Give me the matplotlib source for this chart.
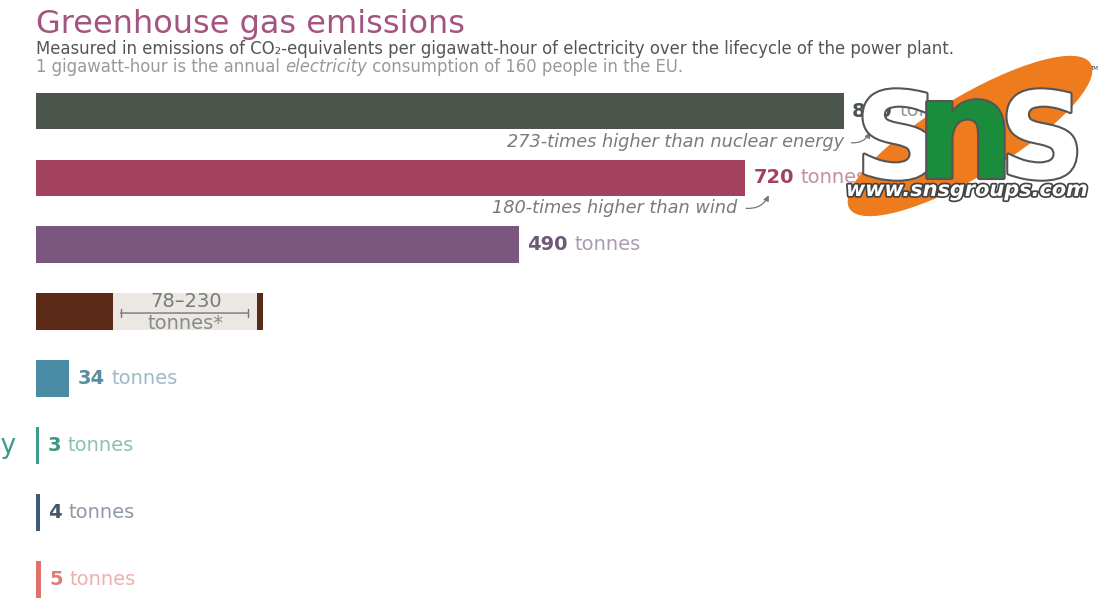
import matplotlib
matplotlib.use("Agg")
import matplotlib.pyplot as plt
import matplotlib.patheffects as pe
from matplotlib.patches import Ellipse, FancyArrowPatch

plt.rcParams["font.family"] = ["DejaVu Sans"]

# data
sources = ["Coal", "Oil", "Natural gas", "Biomass", "Hydropower",
           "Nuclear energy", "Wind", "Solar"]
emissions = [820, 720, 490, 78, 34, 3, 4, 5]
biomass_high = 230
colors = ["#4b554b", "#a3425f", "#7b5780", "#5b2a18", "#4a8ba6",
          "#3a9c8a", "#3e5a7a", "#e0716c"]
label_colors = ["#4b554b", "#a3425f", "#6e5a78", "#5b2a18", "#5a8ca2",
                "#3f9585", "#44566c", "#df7c78"]
value_labels = ["820", "720", "490", None, "34", "3", "4", "5"]

W, H = 1108, 615
fig = plt.figure(figsize=(W / 100, H / 100), dpi=100)

# bar axes: left edge at x=36px, 0.985 px per tonne, rows 66.9 px apart
x0 = 36
ppt = 0.985
row = 66.9
y_first = 111
ax = fig.add_axes([x0 / W, 0, 1 - x0 / W, 1])
ax.set_xlim(0, (W - x0) / ppt)
ax.set_ylim((H - y_first) / row, -y_first / row)
ax.axis("off")

ypos = list(range(len(sources)))
ax.barh(ypos, emissions, height=0.55, color=colors, zorder=3)

# biomass range box
ax.barh(3, biomass_high - emissions[3], left=emissions[3], height=0.55,
        color="#ebe7e3", zorder=2)
ax.barh(3, 6, left=biomass_high - 6, height=0.55, color=colors[3], zorder=3)
ax.annotate("", xy=(83, 3.02), xytext=(218, 3.02),
            arrowprops=dict(arrowstyle="|-|", color="#777", lw=1,
                            mutation_scale=3), zorder=4)
ax.text(152, 2.99, "78–230", ha="center", va="bottom", fontsize=14,
        color="#7a7a7a", zorder=5)
ax.text(152, 3.03, "tonnes*", ha="center", va="top", fontsize=14,
        color="#8a8a8a", zorder=5)

# value labels
for i, (v, lab) in enumerate(zip(emissions, value_labels)):
    if lab is None:
        continue
    t = ax.annotate(lab, xy=(v, i), xytext=(6, 0), textcoords="offset points",
                    ha="left", va="center", fontsize=14, fontweight="bold",
                    color=label_colors[i], zorder=5)
    ax.annotate("tonnes", xy=(1, 0.5), xycoords=t, xytext=(5, 0),
                textcoords="offset points", ha="left", va="center",
                fontsize=14, color=label_colors[i], alpha=0.6, zorder=5)

# category label (mostly cut off on the left)
ax.text(-20, 5, "Nuclear energy", ha="right", va="center", fontsize=19,
        color=colors[5], clip_on=False)

# comparison notes
ax.text(820, 0.47, "273-times higher than nuclear energy", ha="right",
        va="center", fontsize=12.8, style="italic", color="#7a7a7a")
ax.text(712, 1.45, "180-times higher than wind", ha="right",
        va="center", fontsize=12.8, style="italic", color="#7a7a7a")
ax.add_patch(FancyArrowPatch((718, 1.45), (745, 1.22),
                             connectionstyle="arc3,rad=0.4",
                             arrowstyle="-|>", mutation_scale=8,
                             color="#777", lw=0.9))
ax.add_patch(FancyArrowPatch((825, 0.47), (848, 0.28),
                             connectionstyle="arc3,rad=0.4",
                             arrowstyle="-|>", mutation_scale=8,
                             color="#777", lw=0.9))

# titles
fig.text(x0 / W, 1 - 33 / H, "Greenhouse gas emissions", fontsize=23,
         color="#a3557f", ha="left", va="baseline")
fig.text(x0 / W, 1 - 54 / H,
         "Measured in emissions of CO₂-equivalents per gigawatt-hour of "
         "electricity over the lifecycle of the power plant.",
         fontsize=11.9, color="#555", ha="left", va="baseline")
t1 = fig.text(x0 / W, 1 - 72 / H, "1 gigawatt-hour is the annual ",
              fontsize=11.9, color="#999", ha="left", va="baseline")
t2 = plt.annotate("electricity", xy=(1, 0), xycoords=t1,
                  fontsize=11.9, style="italic", color="#999",
                  ha="left", va="bottom", annotation_clip=False)
plt.annotate(" consumption of 160 people in the EU.", xy=(1, 0), xycoords=t2,
             fontsize=11.9, color="#999", ha="left", va="bottom",
             annotation_clip=False)

# watermark logo on top
lax = fig.add_axes([0, 0, 1, 1], zorder=10)
lax.set_xlim(0, W)
lax.set_ylim(H, 0)
lax.axis("off")
lax.add_patch(Ellipse((970, 136), 280, 78, angle=-31, color="#ef7b1f"))
outline = [pe.withStroke(linewidth=3, foreground="#555")]
lax.text(898, 178, "S", fontsize=86, fontweight="bold", color="white",
         ha="center", va="baseline", path_effects=outline)
lax.text(965, 178, "n", fontsize=100, fontweight="bold", color="#1a8c3c",
         ha="center", va="baseline", path_effects=outline)
lax.text(1042, 178, "S", fontsize=86, fontweight="bold", color="white",
         ha="center", va="baseline", path_effects=outline)
lax.text(967, 190, "www.snsgroups.com", fontsize=15, fontweight="bold",
         style="italic", color="white", ha="center", va="center",
         path_effects=[pe.withStroke(linewidth=2.5, foreground="#444")])
lax.text(1094, 68, "TM", fontsize=4, color="#333", ha="center", va="center")

fig.savefig("out.png", dpi=100, facecolor="white")
